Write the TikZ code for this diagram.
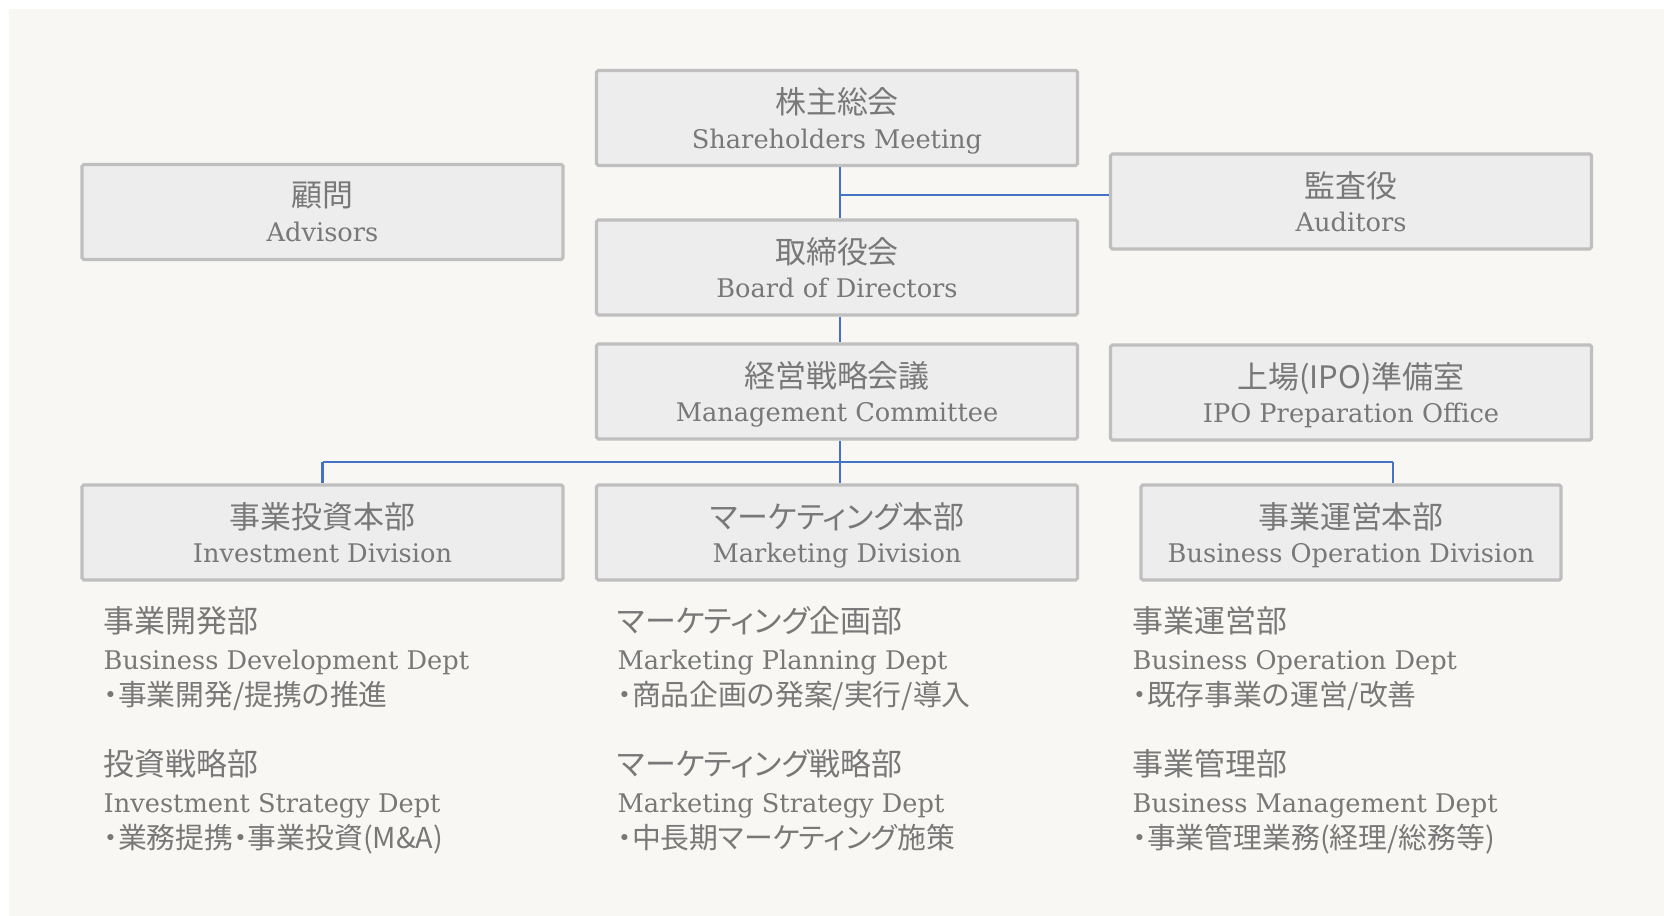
\documentclass[tikz,border=0pt]{standalone}
\usepackage{fontspec}
\setmainfont{DejaVu Serif}
\newfontfamily\cjk[RawFeature=+palt]{Noto Sans CJK JP}
\definecolor{bgpaper}{HTML}{F8F7F3}
\definecolor{boxfill}{HTML}{EDEDED}
\definecolor{boxline}{HTML}{BFBFBF}
\definecolor{txtgray}{HTML}{787878}
\definecolor{linkblue}{HTML}{4472C4}
\newcommand{\jp}[1]{{\cjk\fontsize{8.8}{10.5}\selectfont #1}}
\newcommand{\jps}[1]{{\cjk\fontsize{8.2}{10}\selectfont #1}}
\tikzset{
  orgbox/.style={draw=boxline, line width=0.9pt, fill=boxfill, rounded corners=0.5pt,
    minimum width=4.81cm, minimum height=0.95cm, inner sep=0pt,
    align=center, text=txtgray, font=\fontsize{7.3}{9.9}\selectfont,
    text depth=-0.6pt},
  deptlist/.style={anchor=north west, align=left, inner sep=0pt,
    text=txtgray, font=\fontsize{7.3}{10.4}\selectfont},
  link/.style={draw=linkblue, line width=0.6pt}
}
\begin{document}
\begin{tikzpicture}
\useasboundingbox (0,0) rectangle (16.64,9.16);
\fill[bgpaper] (0.09,0) rectangle (16.64,9.07);

\node[orgbox] (sh) at (8.37,7.98) {\jp{株主総会}\\Shareholders Meeting};
\node[orgbox] (adv) at (3.225,7.04) {\jp{顧問}\\Advisors};
\node[orgbox] (aud) at (13.51,7.145) {\jp{監査役}\\Auditors};
\node[orgbox] (bod) at (8.37,6.485) {\jp{取締役会}\\Board of Directors};
\node[orgbox] (mgmt) at (8.37,5.245) {\jp{経営戦略会議}\\Management Committee};
\node[orgbox] (ipo) at (13.51,5.235) {\jp{上場(IPO)準備室}\\IPO Preparation Office};

\node[orgbox] (inv) at (3.225,3.835) {\jp{事業投資本部}\\Investment Division};
\node[orgbox] (mkt) at (8.37,3.835) {\jp{マーケティング本部}\\Marketing Division};
\node[orgbox, minimum width=4.2cm] (bop) at (13.51,3.835) {\jp{事業運営本部}\\Business Operation Division};

\coordinate (trunk) at (8.40,4.54);
\coordinate (audlink) at (8.40,7.21);
\coordinate (leftdrop) at (3.225,4.54);
\coordinate (rightdrop) at (13.93,4.54);
\draw[link] (sh.south -| trunk) -- (bod.north -| trunk);
\draw[link] (audlink) -- (audlink -| aud.west);
\draw[link] (bod.south -| trunk) -- (mgmt.north -| trunk);
\draw[link] (mgmt.south -| trunk) -- (mkt.north -| trunk);
\draw[link] (leftdrop) -- (rightdrop);
\draw[link] (leftdrop) -- (inv.north);
\draw[link] (rightdrop) -- (bop.north -| rightdrop);

\node[deptlist] (bizdev) at (1.03,3.10) {\jp{事業開発部}\\Business Development Dept\\\jps{・事業開発/提携の推進}};
\node[deptlist] (invstrat) at (1.03,1.67) {\jp{投資戦略部}\\Investment Strategy Dept\\\jps{・業務提携・事業投資(M\&A)}};
\node[deptlist] (mktplan) at (6.17,3.10) {\jp{マーケティング企画部}\\Marketing Planning Dept\\\jps{・商品企画の発案/実行/導入}};
\node[deptlist] (mktstrat) at (6.17,1.67) {\jp{マーケティング戦略部}\\Marketing Strategy Dept\\\jps{・中長期マーケティング施策}};
\node[deptlist] (bizop) at (11.32,3.10) {\jp{事業運営部}\\Business Operation Dept\\\jps{・既存事業の運営/改善}};
\node[deptlist] (bizmgmt) at (11.32,1.67) {\jp{事業管理部}\\Business Management Dept\\\jps{・事業管理業務(経理/総務等)}};
\end{tikzpicture}
\end{document}
